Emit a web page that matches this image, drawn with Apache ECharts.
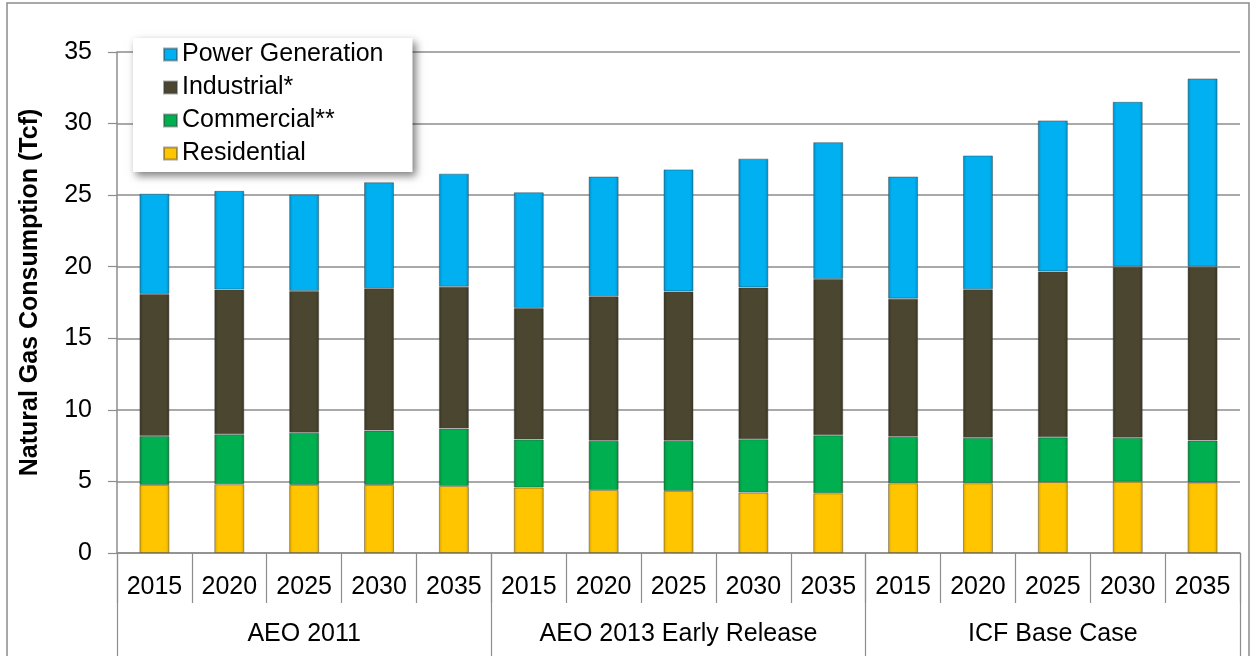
<!DOCTYPE html>
<html>
<head>
<meta charset="utf-8">
<script src="https://cdn.jsdelivr.net/npm/echarts@6/dist/echarts.min.js"></script>
<style>
html,body{margin:0;padding:0;background:#fff;}
#c{width:1252px;height:656px;}
</style>
</head>
<body>
<div id="c"></div>
<script>
const years = ['2015','2020','2025','2030','2035','2015','2020','2025','2030','2035','2015','2020','2025','2030','2035'];
const groups = ['AEO 2011','AEO 2013 Early Release','ICF Base Case'];
// stacked cumulative tops
const residentialTop = [4.75,4.8,4.75,4.75,4.68, 4.57,4.4,4.33,4.22,4.17, 4.87,4.87,4.96,4.98,4.93];
const commercialTop  = [8.17,8.3,8.4,8.55,8.7, 7.93,7.84,7.84,7.95,8.22, 8.12,8.05,8.08,8.05,7.86];
const industrialTop  = [18.1,18.4,18.3,18.5,18.6, 17.12,17.93,18.27,18.55,19.14, 17.77,18.42,19.67,20.0,20.0];
const powerTop       = [25.1,25.3,25.05,25.9,26.5, 25.2,26.3,26.8,27.55,28.7, 26.3,27.77,30.22,31.52,33.15];

const residential = residentialTop.slice();
const commercial = commercialTop.map((v,i)=>+(v-residentialTop[i]).toFixed(2));
const industrial = industrialTop.map((v,i)=>+(v-commercialTop[i]).toFixed(2));
const power = powerTop.map((v,i)=>+(v-industrialTop[i]).toFixed(2));

const FONT = '"Liberation Sans", Arial, sans-serif';
function grad(c1,c2){
  return new echarts.graphic.LinearGradient(0,0,1,0,[
    {offset:0,color:c2},{offset:0.12,color:c1},{offset:0.88,color:c1},{offset:1,color:c2}]);
}
const chart = echarts.init(document.getElementById('c'));
const mk = (name,data,c1,c2)=>({
  name, type:'bar', stack:'t', data, barWidth:30, xAxisIndex:0,
  itemStyle:{color:grad(c1,c2), borderColor:'rgba(60,60,60,0.45)', borderWidth:1}
});
chart.setOption({
  animation:false,
  textStyle:{fontFamily:FONT},
  graphic:[{type:'rect',shape:{x:7,y:3,width:1242,height:670},style:{fill:'none',stroke:'#8c8c8c',lineWidth:1.5},z:-10}],
  legend:{
    orient:'vertical', left:133, top:38,
    data:['Power Generation','Industrial*','Commercial**','Residential'],
    icon:'rect', itemWidth:13, itemHeight:12, itemGap:8,
    padding:[4,29,6,30],
    backgroundColor:'#fff',
    shadowColor:'rgba(0,0,0,0.5)', shadowBlur:8, shadowOffsetX:3, shadowOffsetY:4,
    textStyle:{fontSize:25, color:'#000', fontFamily:FONT}
  },
  grid:{left:117, right:12, top:52, bottom:103},
  xAxis:[{
    type:'category', data:years, position:'bottom',
    axisLine:{show:true, lineStyle:{color:'#8c8c8c', width:1.5}},
    axisTick:{show:true, interval:0, length:50, lineStyle:{color:'#8c8c8c', width:1.2}},
    axisLabel:{interval:0, fontSize:25, color:'#000', margin:22, fontFamily:FONT}
  },{
    type:'category', data:groups, position:'bottom', gridIndex:0,
    axisLine:{show:false},
    axisTick:{show:true, interval:0, length:104, lineStyle:{color:'#8c8c8c', width:1.2}},
    axisLabel:{interval:0, fontSize:25, color:'#000', margin:69, fontFamily:FONT}
  }],
  yAxis:{
    type:'value', min:0, max:35, interval:5,
    name:'Natural Gas Consumption (Tcf)', nameLocation:'middle', nameGap:74,
    nameTextStyle:{fontSize:25, fontWeight:'bold', color:'#000', fontFamily:FONT, padding:[0,0,0,20]},
    axisLine:{show:true, lineStyle:{color:'#8c8c8c', width:1.5}},
    axisTick:{show:true, length:9, lineStyle:{color:'#8c8c8c', width:1.2}},
    axisLabel:{fontSize:25, color:'#000', margin:25, fontFamily:FONT},
    splitLine:{show:true, lineStyle:{color:'#8c8c8c', width:1.5}}
  },
  series:[
    mk('Residential', residential, '#FFC600', '#D9A200'),
    mk('Commercial**', commercial, '#00B050', '#008A3A'),
    mk('Industrial*', industrial, '#4B4630', '#37331F'),
    mk('Power Generation', power, '#00B0F0', '#008DC4')
  ]
});
</script>
</body>
</html>
